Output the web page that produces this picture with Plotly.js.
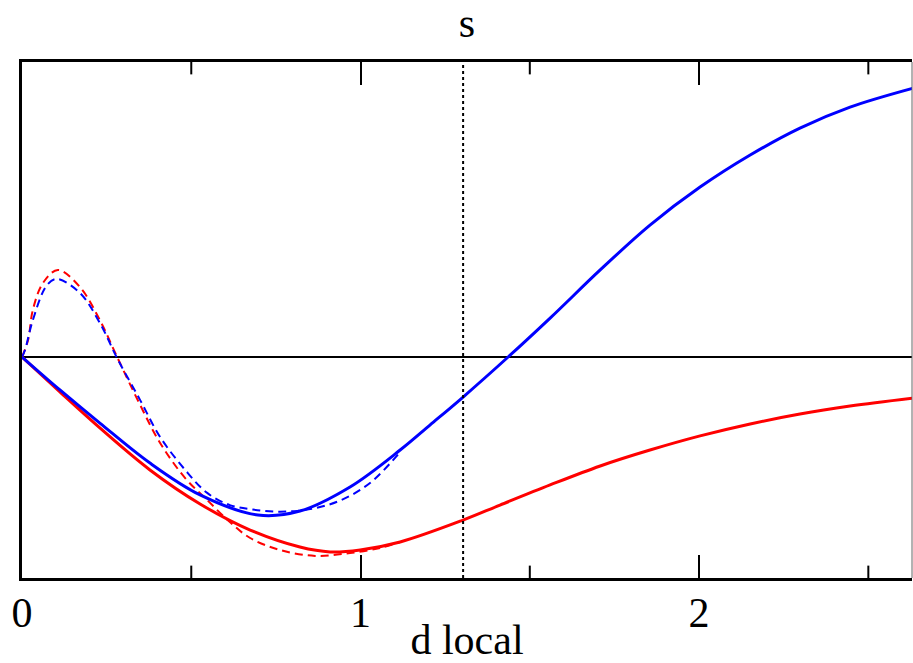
<!DOCTYPE html>
<html>
<head>
<meta charset="utf-8">
<script src="https://cdn.plot.ly/plotly-3.0.1.min.js"></script>
<style>
  html, body { margin: 0; padding: 0; background: #fff; }
  #chart { width: 913px; height: 663px; }
</style>
</head>
<body>
<div id="chart"></div>
<script>
// (arbitrary y units, zero at the black line)
const redSolidX = [0, 0.112, 0.230, 0.378, 0.526, 0.674, 0.821, 0.910, 0.999, 1.117, 1.303, 1.412, 1.560, 1.708, 1.855, 2.003, 2.151, 2.298, 2.446, 2.633];
const redSolidY = [0, -0.158, -0.321, -0.511, -0.665, -0.783, -0.860, -0.882, -0.873, -0.837, -0.738, -0.670, -0.579, -0.493, -0.421, -0.357, -0.303, -0.258, -0.222, -0.186];

const blueSolidX = [0, 0.112, 0.230, 0.378, 0.526, 0.697, 0.821, 0.969, 1.117, 1.205, 1.303, 1.436, 1.560, 1.708, 1.855, 2.003, 2.151, 2.298, 2.446, 2.633];
const blueSolidY = [0, -0.149, -0.299, -0.480, -0.624, -0.715, -0.697, -0.588, -0.421, -0.308, -0.181, 0, 0.176, 0.394, 0.597, 0.769, 0.914, 1.036, 1.131, 1.217];

const redDashX = [0, 0.018, 0.032, 0.062, 0.106, 0.171, 0.230, 0.281, 0.349, 0.408, 0.482, 0.547, 0.614, 0.674, 0.762, 0.866, 0.969, 1.058, 1.117];
const redDashY = [0, 0.077, 0.213, 0.335, 0.394, 0.317, 0.167, 0, -0.217, -0.389, -0.548, -0.647, -0.747, -0.819, -0.873, -0.900, -0.887, -0.864, -0.837];

const blueDashX = [0, 0.009, 0.032, 0.074, 0.103, 0.171, 0.230, 0.281, 0.349, 0.408, 0.482, 0.547, 0.614, 0.682, 0.762, 0.851, 0.939, 1.028, 1.117];
const blueDashY = [0, 0.032, 0.167, 0.326, 0.353, 0.290, 0.154, -0.005, -0.195, -0.362, -0.511, -0.615, -0.670, -0.690, -0.700, -0.688, -0.650, -0.570, -0.430];

const markerX = 1.303;
const xRange = [0, 2.629];
const xTicks = [0, 1, 2];
const xMinorTicks = [0.5, 1.5, 2.5];

const font = { family: 'Liberation Serif, Times New Roman, serif', size: 42, color: '#000' };

const traces = [
  { x: redDashX, y: redDashY, mode: 'lines', line: { color: '#ff0000', width: 2, dash: '8px,5px', shape: 'spline' } },
  { x: blueDashX, y: blueDashY, mode: 'lines', line: { color: '#0000ff', width: 2, dash: '8px,5px', shape: 'spline' } },
  { x: redSolidX, y: redSolidY, mode: 'lines', line: { color: '#ff0000', width: 3, shape: 'spline' } },
  { x: blueSolidX, y: blueSolidY, mode: 'lines', line: { color: '#0000ff', width: 3, shape: 'spline' } },
];

// short inward ticks at the half units, bottom and top (length as a fraction of plot height)
function halfTickShapes(vals, len) {
  const out = [];
  vals.forEach(v => {
    out.push({ type: 'line', xref: 'x', yref: 'paper', x0: v, x1: v, y0: 0, y1: len, line: { color: '#000', width: 2 } });
    out.push({ type: 'line', xref: 'x', yref: 'paper', x0: v, x1: v, y0: 1 - len, y1: 1, line: { color: '#000', width: 2 } });
  });
  return out;
}

const layout = {
  width: 913,
  height: 663,
  margin: { t: 62, r: 1, b: 85, l: 22 },
  showlegend: false,
  font: font,
  title: { text: 's', font: font, x: 0.5, xref: 'paper', y: 0.966, yref: 'container', yanchor: 'middle' },
  xaxis: {
    range: xRange,
    tickvals: xTicks,
    ticktext: xTicks.map(String),
    ticks: 'inside',
    ticklen: 23,
    tickwidth: 2,
    tickcolor: '#000',
    showline: true,
    linewidth: 3,
    linecolor: '#000',
    mirror: 'ticks',
    showgrid: false,
    zeroline: false,
    tickfont: font,
    ticklabelstandoff: -4,
    title: { text: 'd local', font: font, standoff: 0 },
  },
  yaxis: {
    range: [-1, 1.335],
    showticklabels: false,
    ticks: '',
    showline: true,
    linewidth: 3,
    linecolor: '#000',
    showgrid: false,
    zeroline: true,
    zerolinecolor: '#000',
    zerolinewidth: 1.5,
  },
  shapes: [
    ...halfTickShapes(xMinorTicks, 0.024),
    { type: 'line', xref: 'x', yref: 'paper', x0: markerX, x1: markerX, y0: 0, y1: 1, line: { color: '#000', width: 2, dash: 'dot' } },
    { type: 'line', xref: 'paper', yref: 'paper', x0: 1, x1: 1, y0: 0, y1: 1, line: { color: '#666', width: 1 } },
  ],
  plot_bgcolor: '#fff',
  paper_bgcolor: '#fff',
};

Plotly.newPlot('chart', traces, layout, { displayModeBar: false, staticPlot: true });
</script>
</body>
</html>
